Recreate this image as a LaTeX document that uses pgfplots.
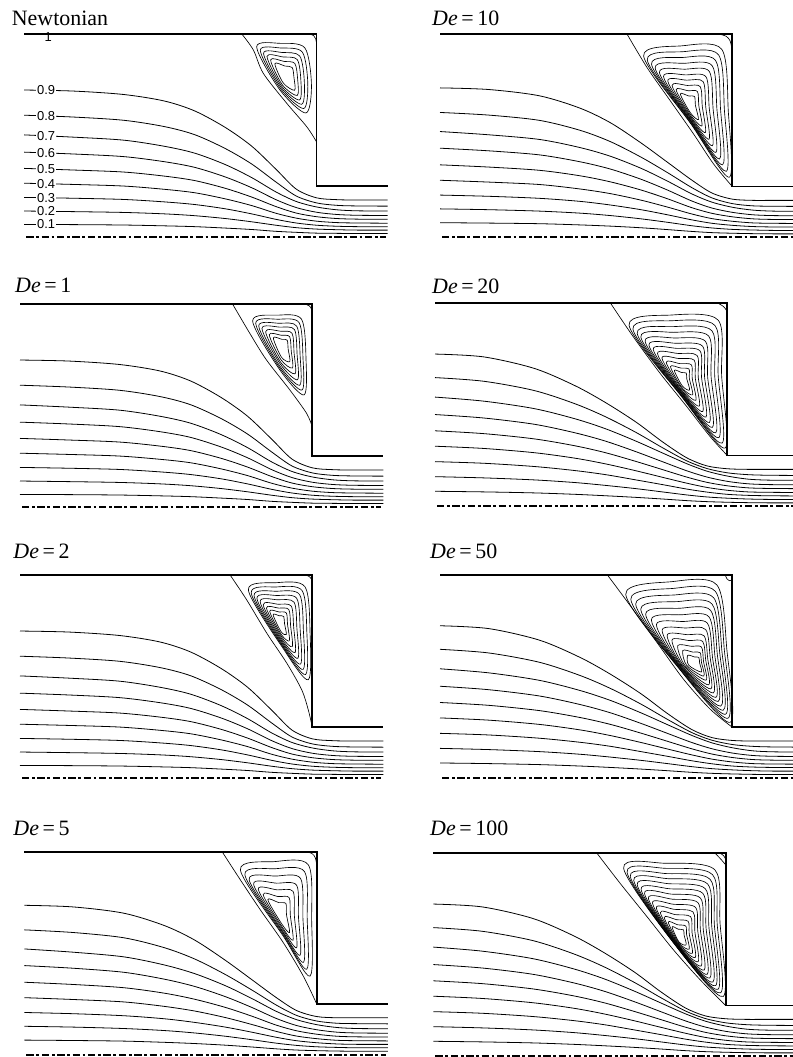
\documentclass[border=0pt]{standalone}
\usepackage{pgfplots}
\pgfplotsset{compat=1.18}
\usepackage{pgfplotstable}
\usepackage{fontspec}
\setmainfont{Liberation Serif}
\newfontfamily\labelfont{Liberation Sans}

% streamline families (psi = 0.9 ... 0.1)
\pgfplotstableread{
x s9 s8 s7 s6 s5 s4 s3 s2 s1
-1.44 0.724 0.600 0.503 0.418 0.338 0.265 0.195 0.128 0.062
-1.20 0.719 0.591 0.492 0.409 0.330 0.259 0.191 0.125 0.061
-0.95 0.702 0.575 0.477 0.396 0.320 0.251 0.185 0.121 0.059
-0.75 0.670 0.544 0.447 0.371 0.300 0.235 0.173 0.114 0.055
-0.60 0.621 0.504 0.413 0.343 0.278 0.218 0.160 0.105 0.051
-0.45 0.540 0.436 0.357 0.296 0.240 0.188 0.139 0.091 0.044
-0.32 0.448 0.360 0.293 0.243 0.197 0.155 0.114 0.075 0.037
-0.20 0.334 0.271 0.222 0.184 0.150 0.117 0.087 0.058 0.028
-0.10 0.236 0.202 0.175 0.145 0.118 0.093 0.069 0.046 0.023
0.00 0.193 0.168 0.148 0.122 0.100 0.078 0.058 0.039 0.019
0.10 0.184 0.156 0.134 0.111 0.091 0.071 0.053 0.036 0.018
0.20 0.182 0.153 0.129 0.107 0.088 0.069 0.051 0.034 0.017
0.35 0.182 0.152 0.128 0.106 0.087 0.068 0.051 0.034 0.017
}\grpA
\pgfplotstableread{
x s9 s8 s7 s6 s5 s4 s3 s2 s1
-1.44 0.736 0.615 0.521 0.439 0.357 0.281 0.208 0.140 0.072
-1.20 0.728 0.602 0.505 0.426 0.346 0.272 0.202 0.136 0.070
-0.95 0.697 0.576 0.482 0.406 0.330 0.260 0.192 0.129 0.067
-0.75 0.636 0.527 0.442 0.372 0.303 0.238 0.177 0.119 0.061
-0.60 0.564 0.471 0.399 0.336 0.273 0.215 0.159 0.107 0.055
-0.45 0.465 0.395 0.340 0.286 0.233 0.183 0.136 0.091 0.047
-0.32 0.370 0.319 0.277 0.233 0.190 0.149 0.111 0.074 0.038
-0.20 0.282 0.245 0.214 0.179 0.146 0.115 0.086 0.057 0.029
-0.10 0.218 0.194 0.173 0.144 0.118 0.092 0.069 0.046 0.023
0.00 0.188 0.166 0.148 0.123 0.101 0.079 0.059 0.039 0.020
0.10 0.182 0.155 0.134 0.111 0.091 0.071 0.053 0.036 0.018
0.20 0.182 0.153 0.129 0.107 0.088 0.069 0.051 0.034 0.017
0.35 0.182 0.152 0.128 0.106 0.087 0.068 0.051 0.034 0.017
}\grpB
\pgfplotstableread{
x s9 s8 s7 s6 s5 s4 s3 s2 s1
-1.44 0.750 0.634 0.538 0.452 0.372 0.296 0.220 0.146 0.074
-1.20 0.736 0.616 0.518 0.435 0.358 0.285 0.212 0.140 0.071
-0.95 0.679 0.570 0.481 0.404 0.332 0.264 0.196 0.130 0.066
-0.75 0.594 0.505 0.431 0.362 0.298 0.237 0.176 0.117 0.059
-0.60 0.511 0.441 0.382 0.321 0.264 0.209 0.156 0.103 0.052
-0.45 0.415 0.364 0.321 0.269 0.221 0.175 0.130 0.087 0.044
-0.32 0.318 0.289 0.263 0.220 0.181 0.143 0.107 0.071 0.036
-0.20 0.239 0.224 0.210 0.175 0.144 0.114 0.085 0.056 0.028
-0.10 0.199 0.186 0.173 0.144 0.118 0.093 0.070 0.046 0.023
0.00 0.185 0.165 0.149 0.123 0.101 0.079 0.059 0.040 0.020
0.10 0.182 0.156 0.134 0.111 0.091 0.071 0.054 0.036 0.018
0.20 0.182 0.153 0.129 0.107 0.088 0.069 0.052 0.034 0.017
0.35 0.182 0.152 0.128 0.106 0.087 0.068 0.051 0.034 0.017
}\grpC

\pgfplotsset{
 panel/.style={axis lines=none, ticks=none, x=203bp, y=203bp,
   xmin=-1.44, xmax=0.35, ymin=0, ymax=1, clip=false, anchor=south west},
 wall/.style={black, line width=1.8bp, no marks, line join=miter},
 sl/.style={black, line width=0.8bp, no marks, smooth},
 vl/.style={black, line width=0.65bp, no marks, smooth cycle, tension=0.5},
 sp/.style={black, line width=0.65bp, no marks, smooth},
 cl/.style={black, line width=2bp, no marks, dash pattern=on 7.3bp off 2.7bp on 2.7bp off 2.7bp},
}
\newcommand{\walls}{%
 \addplot[wall] coordinates {(-1.44,1) (0,1) (0,0.25) (0.35,0.25)};
 \addplot[cl] coordinates {(-1.43,0) (0.34,0)};}
\newcommand{\streams}[1]{%
 \addplot[sl] table[x=x,y=s9]{#1};
 \addplot[sl] table[x=x,y=s8]{#1};
 \addplot[sl] table[x=x,y=s7]{#1};
 \addplot[sl] table[x=x,y=s6]{#1};
 \addplot[sl] table[x=x,y=s5]{#1};
 \addplot[sl] table[x=x,y=s4]{#1};
 \addplot[sl] table[x=x,y=s3]{#1};
 \addplot[sl] table[x=x,y=s2]{#1};
 \addplot[sl] table[x=x,y=s1]{#1};}
\newcommand{\ttl}[3]{\node[anchor=base west, inner sep=0pt, font=\fontsize{22}{26}\selectfont] at (#1bp,-#2bp) {#3};}
\newcommand{\lab}[2]{\node[fill=white, inner xsep=0.8bp, inner ysep=0.3bp, font=\labelfont\fontsize{13}{13}\selectfont] at (-1.332,#1) {#2};}

\begin{document}
\begin{tikzpicture}
\useasboundingbox (0,0) rectangle (793bp,-1057bp);

% ---------------- Newtonian
\ttl{11.7}{25}{Newtonian}
\begin{axis}[panel, at={(24.2bp,-237bp)}]
\walls
\streams{\grpA}
\addplot[sp] coordinates {(-0.368,1) (-0.311,0.921) (-0.262,0.806) (-0.147,0.659) (-0.048,0.543) (0,0.469)};
\addplot[sp] coordinates {(-0.035,1) (-0.014,0.992) (-0.004,0.976) (0,0.955)};
\addplot[vl] coordinates {(-0.295,0.937) (-0.180,0.954) (-0.057,0.931) (-0.025,0.749) (-0.052,0.611) (-0.180,0.724)};
\addplot[vl] coordinates {(-0.277,0.920) (-0.175,0.931) (-0.070,0.911) (-0.043,0.756) (-0.063,0.633) (-0.177,0.730)};
\addplot[vl] coordinates {(-0.261,0.905) (-0.170,0.909) (-0.083,0.892) (-0.060,0.763) (-0.073,0.654) (-0.174,0.736)};
\addplot[vl] coordinates {(-0.244,0.890) (-0.165,0.887) (-0.095,0.874) (-0.077,0.770) (-0.084,0.675) (-0.171,0.742)};
\addplot[vl] coordinates {(-0.226,0.873) (-0.160,0.865) (-0.107,0.855) (-0.093,0.777) (-0.095,0.697) (-0.168,0.749)};
\addplot[vl] coordinates {(-0.205,0.854) (-0.155,0.842) (-0.120,0.835) (-0.111,0.784) (-0.108,0.723) (-0.164,0.759)};
\lab{0.722}{0.9}
\lab{0.596}{0.8}
\lab{0.498}{0.7}
\lab{0.414}{0.6}
\lab{0.334}{0.5}
\lab{0.262}{0.4}
\lab{0.193}{0.3}
\lab{0.127}{0.2}
\lab{0.062}{0.1}
\node[inner sep=0pt, font=\labelfont\fontsize{13}{13}\selectfont] at (-1.322,0.984) {1};
\end{axis}

% ---------------- De = 1
\ttl{15}{292}{\textit{De}\,=\,1}
\begin{axis}[panel, at={(20bp,-507bp)}]
\walls
\streams{\grpA}
\addplot[sp] coordinates {(-0.393,1) (-0.310,0.859) (-0.227,0.726) (-0.111,0.577) (-0.028,0.461) (0,0.395)};
\addplot[sp] coordinates {(-0.038,1) (-0.015,0.991) (-0.004,0.974) (0,0.95)};
\addplot[vl] coordinates {(-0.294,0.917) (-0.170,0.945) (-0.053,0.925) (-0.031,0.726) (-0.041,0.552) (-0.161,0.677)};
\addplot[vl] coordinates {(-0.279,0.905) (-0.167,0.925) (-0.065,0.908) (-0.046,0.735) (-0.051,0.576) (-0.160,0.685)};
\addplot[vl] coordinates {(-0.264,0.892) (-0.163,0.905) (-0.077,0.891) (-0.060,0.743) (-0.062,0.600) (-0.159,0.693)};
\addplot[vl] coordinates {(-0.248,0.879) (-0.160,0.886) (-0.088,0.874) (-0.075,0.752) (-0.073,0.627) (-0.157,0.703)};
\addplot[vl] coordinates {(-0.230,0.864) (-0.156,0.866) (-0.100,0.856) (-0.090,0.761) (-0.085,0.656) (-0.156,0.713)};
\addplot[vl] coordinates {(-0.212,0.849) (-0.153,0.846) (-0.112,0.839) (-0.104,0.770) (-0.098,0.685) (-0.154,0.725)};
\addplot[vl] coordinates {(-0.192,0.833) (-0.150,0.826) (-0.124,0.822) (-0.119,0.778) (-0.111,0.716) (-0.152,0.738)};
\end{axis}

% ---------------- De = 2
\ttl{13.3}{558}{\textit{De}\,=\,2}
\begin{axis}[panel, at={(20bp,-778bp)}]
\walls
\streams{\grpA}
\addplot[sp] coordinates {(-0.405,1) (-0.323,0.877) (-0.224,0.713) (-0.126,0.566) (-0.052,0.434) (-0.020,0.336) (0,0.25)};
\addplot[sp] coordinates {(-0.03,1) (-0.012,0.99) (-0.003,0.977) (0,0.96)};
\addplot[vl] coordinates {(-0.315,0.926) (-0.180,0.962) (-0.036,0.942) (-0.011,0.713) (-0.020,0.484) (-0.145,0.640)};
\addplot[vl] coordinates {(-0.301,0.912) (-0.178,0.941) (-0.050,0.923) (-0.027,0.719) (-0.033,0.510) (-0.146,0.648)};
\addplot[vl] coordinates {(-0.287,0.898) (-0.175,0.920) (-0.063,0.904) (-0.044,0.726) (-0.045,0.535) (-0.147,0.656)};
\addplot[vl] coordinates {(-0.273,0.884) (-0.173,0.899) (-0.077,0.885) (-0.060,0.732) (-0.058,0.561) (-0.148,0.665)};
\addplot[vl] coordinates {(-0.257,0.868) (-0.171,0.878) (-0.090,0.866) (-0.076,0.738) (-0.071,0.590) (-0.149,0.674)};
\addplot[vl] coordinates {(-0.242,0.853) (-0.168,0.856) (-0.104,0.847) (-0.092,0.744) (-0.085,0.618) (-0.150,0.684)};
\addplot[vl] coordinates {(-0.226,0.837) (-0.166,0.837) (-0.116,0.830) (-0.107,0.750) (-0.099,0.647) (-0.151,0.695)};
\addplot[vl] coordinates {(-0.210,0.821) (-0.164,0.818) (-0.128,0.813) (-0.122,0.756) (-0.113,0.676) (-0.152,0.706)};
\addplot[vl] coordinates {(-0.193,0.804) (-0.162,0.799) (-0.141,0.796) (-0.137,0.761) (-0.128,0.707) (-0.154,0.721)};
\end{axis}

% ---------------- De = 5
\ttl{13.3}{835}{\textit{De}\,=\,5}
\begin{axis}[panel, at={(24.4bp,-1054.7bp)}]
\walls
\streams{\grpB}
\addplot[sp] coordinates {(-0.466,1) (-0.376,0.861) (-0.278,0.714) (-0.164,0.551) (-0.066,0.387) (0,0.25)};
\addplot[sp] coordinates {(-0.05,1) (-0.022,0.99) (-0.007,0.97) (0,0.935)};
\addplot[vl] coordinates {(-0.376,0.910) (-0.210,0.951) (-0.041,0.935) (-0.025,0.665) (-0.033,0.387) (-0.164,0.583)};
\addplot[vl] coordinates {(-0.354,0.887) (-0.206,0.916) (-0.060,0.902) (-0.047,0.670) (-0.049,0.421) (-0.165,0.591)};
\addplot[vl] coordinates {(-0.333,0.863) (-0.202,0.880) (-0.080,0.869) (-0.068,0.674) (-0.065,0.455) (-0.166,0.600)};
\addplot[vl] coordinates {(-0.311,0.840) (-0.197,0.845) (-0.099,0.835) (-0.090,0.679) (-0.082,0.490) (-0.168,0.609)};
\addplot[vl] coordinates {(-0.288,0.815) (-0.194,0.812) (-0.117,0.805) (-0.110,0.683) (-0.099,0.527) (-0.169,0.620)};
\addplot[vl] coordinates {(-0.264,0.789) (-0.190,0.779) (-0.136,0.774) (-0.130,0.687) (-0.117,0.564) (-0.171,0.631)};
\addplot[vl] coordinates {(-0.241,0.764) (-0.186,0.749) (-0.152,0.745) (-0.149,0.691) (-0.134,0.602) (-0.172,0.644)};
\end{axis}

% ---------------- De = 10
\ttl{432}{25}{\textit{De}\,=\,10}
\begin{axis}[panel, at={(440bp,-237.3bp)}]
\walls
\streams{\grpB}
\addplot[sp] coordinates {(-0.518,1) (-0.420,0.836) (-0.306,0.673) (-0.191,0.509) (-0.093,0.362) (0,0.25)};
\addplot[sp] coordinates {(-0.06,1) (-0.03,0.99) (-0.012,0.97) (-0.004,0.94) (0,0.91)};
\addplot[vl] coordinates {(-0.437,0.893) (-0.250,0.943) (-0.052,0.926) (-0.020,0.623) (-0.015,0.296) (-0.205,0.560)};
\addplot[vl] coordinates {(-0.419,0.874) (-0.246,0.914) (-0.068,0.899) (-0.039,0.626) (-0.030,0.325) (-0.205,0.564)};
\addplot[vl] coordinates {(-0.398,0.853) (-0.242,0.886) (-0.083,0.872) (-0.058,0.630) (-0.048,0.357) (-0.205,0.569)};
\addplot[vl] coordinates {(-0.380,0.834) (-0.237,0.857) (-0.099,0.845) (-0.076,0.633) (-0.063,0.386) (-0.205,0.573)};
\addplot[vl] coordinates {(-0.359,0.812) (-0.233,0.828) (-0.114,0.818) (-0.095,0.636) (-0.081,0.418) (-0.206,0.578)};
\addplot[vl] coordinates {(-0.339,0.791) (-0.229,0.800) (-0.130,0.791) (-0.114,0.639) (-0.098,0.451) (-0.206,0.584)};
\addplot[vl] coordinates {(-0.318,0.770) (-0.225,0.774) (-0.144,0.767) (-0.131,0.642) (-0.115,0.483) (-0.206,0.590)};
\addplot[vl] coordinates {(-0.297,0.748) (-0.221,0.748) (-0.158,0.742) (-0.148,0.645) (-0.133,0.516) (-0.206,0.596)};
\addplot[vl] coordinates {(-0.277,0.727) (-0.218,0.722) (-0.172,0.718) (-0.165,0.648) (-0.150,0.548) (-0.206,0.604)};
\addplot[vl] coordinates {(-0.256,0.706) (-0.214,0.696) (-0.186,0.694) (-0.182,0.651) (-0.167,0.580) (-0.207,0.614)};
\end{axis}

% ---------------- De = 20
\ttl{432}{293}{\textit{De}\,=\,20}
\begin{axis}[panel, at={(435bp,-506.3bp)}]
\walls
\streams{\grpC}
\addplot[sp] coordinates {(-0.575,1) (-0.468,0.842) (-0.335,0.660) (-0.202,0.494) (-0.086,0.345) (0,0.25)};
\addplot[sp] coordinates {(-0.045,1) (-0.02,0.985) (-0.006,0.968) (0,0.955)};
\addplot[vl] coordinates {(-0.484,0.892) (-0.280,0.942) (-0.045,0.917) (-0.028,0.643) (-0.011,0.287) (-0.225,0.540)};
\addplot[vl] coordinates {(-0.465,0.873) (-0.275,0.914) (-0.061,0.891) (-0.045,0.642) (-0.026,0.311) (-0.225,0.543)};
\addplot[vl] coordinates {(-0.444,0.852) (-0.269,0.885) (-0.076,0.865) (-0.062,0.640) (-0.042,0.338) (-0.225,0.546)};
\addplot[vl] coordinates {(-0.426,0.834) (-0.264,0.857) (-0.092,0.839) (-0.080,0.639) (-0.057,0.362) (-0.224,0.550)};
\addplot[vl] coordinates {(-0.405,0.813) (-0.258,0.829) (-0.108,0.813) (-0.097,0.637) (-0.073,0.389) (-0.224,0.553)};
\addplot[vl] coordinates {(-0.386,0.794) (-0.253,0.803) (-0.122,0.789) (-0.112,0.636) (-0.088,0.413) (-0.224,0.557)};
\addplot[vl] coordinates {(-0.365,0.773) (-0.248,0.778) (-0.135,0.766) (-0.127,0.635) (-0.105,0.440) (-0.224,0.561)};
\addplot[vl] coordinates {(-0.344,0.752) (-0.243,0.753) (-0.149,0.743) (-0.143,0.633) (-0.121,0.467) (-0.223,0.565)};
\addplot[vl] coordinates {(-0.322,0.730) (-0.239,0.728) (-0.163,0.720) (-0.158,0.632) (-0.138,0.494) (-0.223,0.570)};
\addplot[vl] coordinates {(-0.301,0.709) (-0.234,0.703) (-0.177,0.697) (-0.173,0.631) (-0.155,0.522) (-0.222,0.577)};
\addplot[vl] coordinates {(-0.280,0.688) (-0.229,0.681) (-0.189,0.676) (-0.187,0.630) (-0.171,0.549) (-0.222,0.583)};
\addplot[vl] coordinates {(-0.261,0.669) (-0.225,0.659) (-0.202,0.656) (-0.200,0.629) (-0.186,0.573) (-0.221,0.592)};
\end{axis}

% ---------------- De = 50
\ttl{430}{558}{\textit{De}\,=\,50}
\begin{axis}[panel, at={(440bp,-778bp)}]
\walls
\streams{\grpC}
\addplot[sp] coordinates {(-0.615,1) (-0.500,0.845) (-0.370,0.666) (-0.240,0.486) (-0.109,0.339) (0,0.25)};
\addplot[sp] coordinates {(-0.035,1) (-0.027,0.982) (-0.014,0.972) (-0.003,0.975) (0,0.98)};
\addplot[vl] coordinates {(-0.525,0.905) (-0.300,0.967) (-0.076,0.951) (-0.027,0.633) (-0.011,0.274) (-0.272,0.551)};
\addplot[vl] coordinates {(-0.500,0.881) (-0.290,0.934) (-0.084,0.920) (-0.039,0.627) (-0.022,0.294) (-0.270,0.551)};
\addplot[vl] coordinates {(-0.476,0.857) (-0.280,0.902) (-0.092,0.888) (-0.051,0.621) (-0.034,0.314) (-0.267,0.551)};
\addplot[vl] coordinates {(-0.451,0.832) (-0.270,0.869) (-0.100,0.857) (-0.062,0.615) (-0.045,0.334) (-0.264,0.552)};
\addplot[vl] coordinates {(-0.427,0.808) (-0.260,0.836) (-0.107,0.826) (-0.074,0.609) (-0.057,0.354) (-0.261,0.552)};
\addplot[vl] coordinates {(-0.399,0.780) (-0.250,0.804) (-0.115,0.794) (-0.086,0.603) (-0.070,0.377) (-0.258,0.552)};
\addplot[vl] coordinates {(-0.374,0.756) (-0.240,0.771) (-0.123,0.763) (-0.098,0.597) (-0.081,0.397) (-0.254,0.552)};
\addplot[vl] coordinates {(-0.346,0.729) (-0.229,0.739) (-0.131,0.731) (-0.109,0.592) (-0.094,0.419) (-0.250,0.553)};
\addplot[vl] coordinates {(-0.321,0.704) (-0.219,0.706) (-0.139,0.700) (-0.121,0.586) (-0.106,0.439) (-0.246,0.553)};
\addplot[vl] coordinates {(-0.297,0.680) (-0.211,0.677) (-0.146,0.673) (-0.131,0.580) (-0.117,0.459) (-0.240,0.554)};
\addplot[vl] coordinates {(-0.269,0.652) (-0.202,0.649) (-0.152,0.645) (-0.142,0.575) (-0.130,0.482) (-0.233,0.554)};
\addplot[vl] coordinates {(-0.244,0.628) (-0.193,0.620) (-0.159,0.618) (-0.152,0.570) (-0.141,0.502) (-0.225,0.555)};
\addplot[vl] coordinates {(-0.220,0.604) (-0.185,0.596) (-0.165,0.594) (-0.161,0.566) (-0.153,0.522) (-0.215,0.556)};
\end{axis}

% ---------------- De = 100
\ttl{430}{835}{\textit{De}\,=\,100}
\begin{axis}[panel, at={(433.4bp,-1056.3bp)}]
\walls
\streams{\grpC}
\addplot[sp] coordinates {(-0.634,1) (-0.520,0.852) (-0.388,0.688) (-0.258,0.525) (-0.126,0.377) (0,0.25)};
\addplot[sp] coordinates {(-0.052,1) (-0.025,0.972) (0,0.943)};
\addplot[sp] coordinates {(-0.027,1) (-0.010,0.988) (0,0.97)};
\addplot[vl] coordinates {(-0.503,0.926) (-0.300,0.951) (-0.053,0.918) (-0.028,0.656) (-0.012,0.295) (-0.235,0.530)};
\addplot[vl] coordinates {(-0.486,0.906) (-0.295,0.926) (-0.065,0.895) (-0.042,0.651) (-0.025,0.313) (-0.235,0.531)};
\addplot[vl] coordinates {(-0.470,0.886) (-0.290,0.900) (-0.077,0.872) (-0.056,0.647) (-0.038,0.330) (-0.235,0.532)};
\addplot[vl] coordinates {(-0.453,0.866) (-0.284,0.875) (-0.089,0.849) (-0.069,0.642) (-0.050,0.348) (-0.234,0.534)};
\addplot[vl] coordinates {(-0.436,0.845) (-0.279,0.850) (-0.101,0.826) (-0.083,0.638) (-0.063,0.366) (-0.234,0.536)};
\addplot[vl] coordinates {(-0.417,0.822) (-0.274,0.825) (-0.113,0.803) (-0.097,0.633) (-0.078,0.386) (-0.234,0.538)};
\addplot[vl] coordinates {(-0.400,0.802) (-0.269,0.799) (-0.125,0.780) (-0.111,0.628) (-0.091,0.404) (-0.233,0.540)};
\addplot[vl] coordinates {(-0.381,0.778) (-0.263,0.774) (-0.137,0.757) (-0.125,0.624) (-0.106,0.425) (-0.233,0.542)};
\addplot[vl] coordinates {(-0.361,0.755) (-0.258,0.749) (-0.149,0.734) (-0.138,0.619) (-0.121,0.445) (-0.233,0.544)};
\addplot[vl] coordinates {(-0.342,0.731) (-0.253,0.724) (-0.161,0.711) (-0.152,0.614) (-0.136,0.466) (-0.232,0.547)};
\addplot[vl] coordinates {(-0.322,0.708) (-0.248,0.698) (-0.173,0.688) (-0.166,0.610) (-0.150,0.487) (-0.232,0.550)};
\addplot[vl] coordinates {(-0.303,0.684) (-0.242,0.673) (-0.185,0.665) (-0.180,0.605) (-0.165,0.507) (-0.231,0.554)};
\addplot[vl] coordinates {(-0.283,0.661) (-0.237,0.648) (-0.197,0.642) (-0.193,0.601) (-0.180,0.528) (-0.230,0.558)};
\addplot[vl] coordinates {(-0.264,0.637) (-0.233,0.626) (-0.208,0.623) (-0.205,0.597) (-0.195,0.549) (-0.230,0.563)};
\end{axis}
\end{tikzpicture}
\end{document}
